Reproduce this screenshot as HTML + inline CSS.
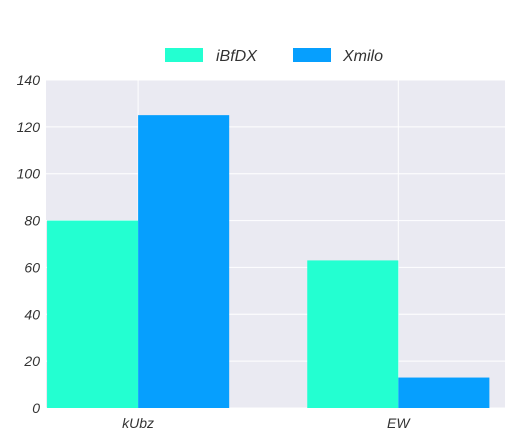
<!DOCTYPE html>
<html><head><meta charset="utf-8"><style>
body{margin:0;background:#fff;}
svg{display:block;font-family:"Liberation Sans",sans-serif;}
</style></head><body>
<svg id="chart" width="518" height="444">
<rect x="46" y="80" width="459" height="328" fill="#eaeaf2"/>
<g id="grid"></g><g id="bars"></g><g id="axes"></g>
<g>
<rect x="165" y="48" width="38" height="14" fill="#23ffd1"/>
<text x="216" y="61" font-size="16" font-style="italic" fill="#333">iBfDX</text>
<rect x="293" y="48" width="38" height="14" fill="#069ffe"/>
<text x="343" y="61" font-size="16" font-style="italic" fill="#333">Xmilo</text>
</g>
</svg>
<script>
const categories=["kUbz","EW"];
const seriesNames=["iBfDX","Xmilo"];
const seriesA=[80,63];
const seriesB=[125,13];
const yTicks=[0,20,40,60,80,100,120,140];
const colors=["#23ffd1","#069ffe"];
const NS="http://www.w3.org/2000/svg";
const x0=46,x1=505,yTop=80,yBot=408;
const xs=v=>x0+(v+0.354)/(1.41+0.354)*(x1-x0);
const ys=v=>yBot-v/140*(yBot-yTop);
const grid=document.getElementById('grid'),bars=document.getElementById('bars'),axes=document.getElementById('axes');
function mk(tag,attrs,parent){const e=document.createElementNS(NS,tag);for(const k in attrs)e.setAttribute(k,attrs[k]);parent.appendChild(e);return e;}
yTicks.forEach(t=>{
 const l=mk('line',{x1:x0,x2:x1,y1:ys(t),y2:ys(t),stroke:'#fff','stroke-width':1},grid);
 
 
 const tx=mk('text',{x:40,y:ys(t)+5,'text-anchor':'end','font-size':14,'font-style':'italic',fill:'#333'},axes);
 tx.textContent=t;
 
 
});
categories.forEach((c,i)=>{
 const l=mk('line',{x1:xs(i),x2:xs(i),y1:yTop,y2:yBot,stroke:'#fff','stroke-width':1},grid);
 
 
 const tx=mk('text',{x:xs(i),y:428,'text-anchor':'middle','font-size':14,'font-style':'italic',fill:'#333'},axes);
 tx.textContent=c;
 
 
});
const w=0.35;
[seriesA,seriesB].forEach((s,si)=>{
 s.forEach((v,i)=>{
  const left=si===0?xs(i-w):xs(i);
  const right=si===0?xs(i):xs(i+w);
  const r=mk('rect',{x:left,y:ys(v),width:right-left,height:ys(0)-ys(v),fill:colors[si]},bars);
  
  
 });
});
</script>
</body></html>
